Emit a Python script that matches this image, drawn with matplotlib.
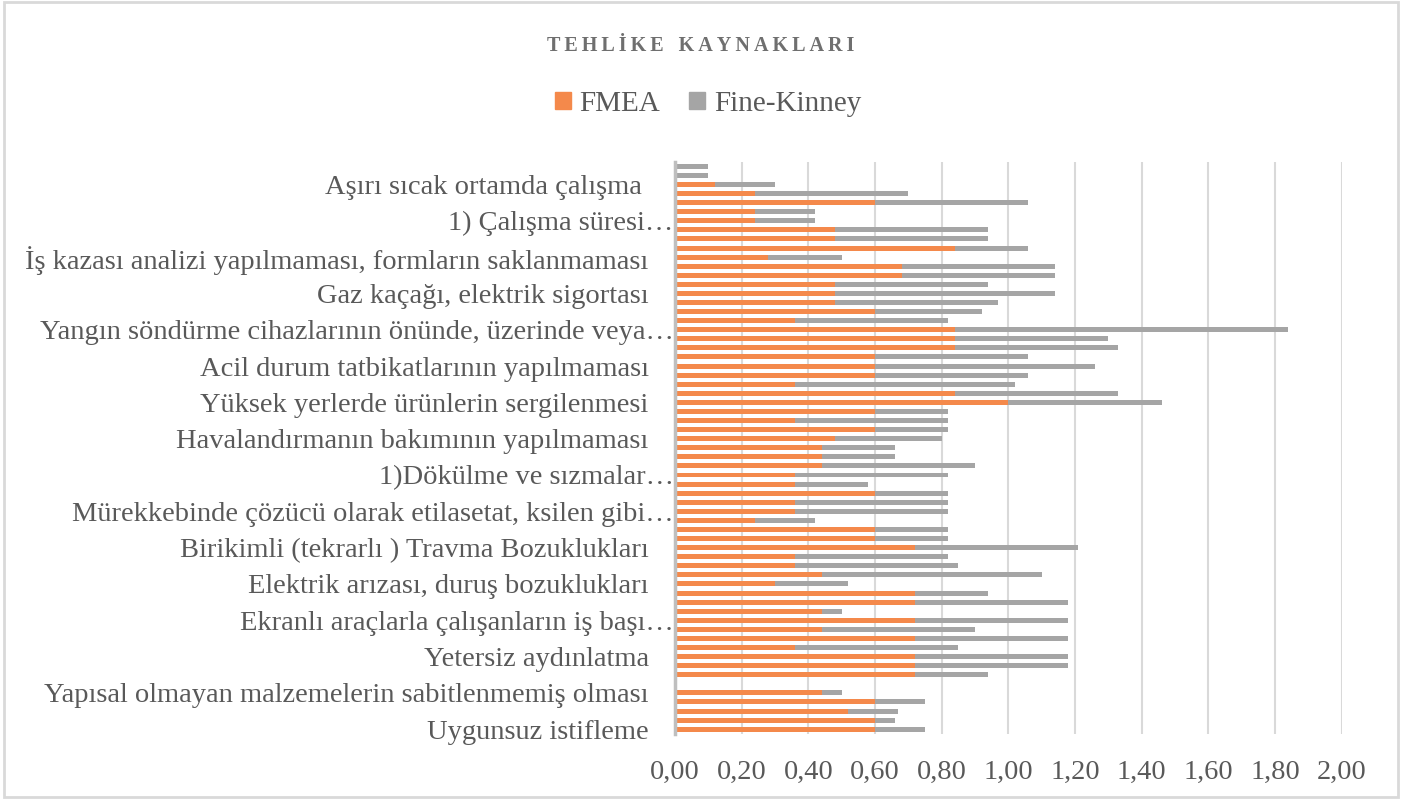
import matplotlib
matplotlib.use('Agg')
from matplotlib import pyplot as plt
import matplotlib.transforms as mtransforms
from matplotlib.patches import Patch, Rectangle
import numpy as np

# values, top row first
fmea = [0, 0, 0.12, 0.24, 0.60, 0.24, 0.24, 0.48, 0.48, 0.84, 0.28, 0.68, 0.68, 0.48, 0.48, 0.48,
        0.60, 0.36, 0.84, 0.84, 0.84, 0.60, 0.60, 0.60, 0.36, 0.84, 1.00, 0.60, 0.36, 0.60, 0.48, 0.44,
        0.44, 0.44, 0.36, 0.36, 0.60, 0.36, 0.36, 0.24, 0.60, 0.60, 0.72, 0.36, 0.36, 0.44, 0.30,
        0.72, 0.72, 0.44, 0.72, 0.44, 0.72, 0.36, 0.72, 0.72, 0.72, 0, 0.44, 0.60, 0.52, 0.60, 0.60]
fine_kinney = [0.10, 0.10, 0.30, 0.70, 1.06, 0.42, 0.42, 0.94, 0.94, 1.06, 0.50, 1.14, 1.14, 0.94, 1.14, 0.97,
               0.92, 0.82, 1.84, 1.30, 1.33, 1.06, 1.26, 1.06, 1.02, 1.33, 1.46, 0.82, 0.82, 0.82, 0.80, 0.66,
               0.66, 0.90, 0.82, 0.58, 0.82, 0.82, 0.82, 0.42, 0.82, 0.82, 1.21, 0.82, 0.85, 1.10, 0.52,
               0.94, 1.18, 0.50, 1.18, 0.90, 1.18, 0.85, 1.18, 1.18, 0.94, 0, 0.50, 0.75, 0.67, 0.66, 0.75]

# only every 4th category label is shown in the original
label_rows = list(range(2, 63, 4))
labels = ['Aşırı sıcak ortamda çalışma ',
          '1) Çalışma süresi…',
          'İş kazası analizi yapılmaması, formların saklanmaması',
          'Gaz kaçağı, elektrik sigortası',
          'Yangın söndürme cihazlarının önünde, üzerinde veya…',
          'Acil durum tatbikatlarının yapılmaması',
          'Yüksek yerlerde ürünlerin sergilenmesi',
          'Havalandırmanın bakımının yapılmaması',
          '1)Dökülme ve sızmalar…',
          'Mürekkebinde çözücü olarak etilasetat, ksilen gibi…',
          'Birikimli (tekrarlı ) Travma Bozuklukları',
          'Elektrik arızası, duruş bozuklukları',
          'Ekranlı araçlarla çalışanların iş başı…',
          'Yetersiz aydınlatma',
          'Yapısal olmayan malzemelerin sabitlenmemiş olması',
          'Uygunsuz istifleme']
x_ticks = [0, 0.2, 0.4, 0.6, 0.8, 1.0, 1.2, 1.4, 1.6, 1.8, 2.0]

orange = '#F4894B'
grey = '#A5A5A5'
text_color = '#595959'

plt.rcParams['font.family'] = ['Liberation Serif', 'DejaVu Serif']

fig = plt.figure(figsize=(14.02, 8), dpi=100)
ax = fig.add_axes([0.4815, 0.0828, 0.4755, 0.715])

y = np.arange(len(fmea))
# grey drawn full length, orange on top -> looks like the stacked excel bars
ax.barh(y, fine_kinney, height=0.55, color=grey)
ax.barh(y, fmea, height=0.55, color=orange)

ax.set_ylim(len(fmea) - 0.5, -0.5)
ax.set_xlim(0, 2)
ax.set_xticks(x_ticks)
ax.set_xticklabels([f'{v:.2f}'.replace('.', ',') for v in x_ticks])
ax.set_yticks(label_rows)
ax.set_yticklabels(labels)
ax.tick_params(axis='both', length=0, labelsize=20.5, labelcolor=text_color)
ax.tick_params(axis='x', pad=19)
ax.tick_params(axis='y', pad=1)

# untruncated labels sit a bit further from the axis
shift = mtransforms.ScaledTranslation(-25 / 100, 0, fig.dpi_scale_trans)
for lab in ax.get_yticklabels():
    if not lab.get_text().endswith('…'):
        lab.set_transform(lab.get_transform() + shift)

ax.xaxis.grid(True, color='#D9D9D9', linewidth=1.5)
ax.set_axisbelow(True)
for s in ['top', 'right', 'bottom']:
    ax.spines[s].set_visible(False)
ax.spines['left'].set_color('#BFBFBF')
ax.spines['left'].set_linewidth(2.5)

title = '\u2009'.join('TEHLİKE') + '   ' + '\u2009'.join('KAYNAKLARI')
fig.text(0.5, 1 - 46 / 800, title, ha='center', va='center',
         fontsize=14.5, fontweight='bold', color='#6F6F6F')

handles = [Patch(color=orange, label='FMEA'), Patch(color=grey, label='Fine-Kinney')]
fig.legend(handles=handles, loc='center', bbox_to_anchor=(0.505, 1 - 104 / 800), ncol=2,
           frameon=False, fontsize=21, handlelength=0.55, handleheight=0.55,
           handletextpad=0.3, columnspacing=1.0, labelcolor=text_color)

fig.patches.append(Rectangle((0.003, 0.004), 0.994, 0.993, transform=fig.transFigure,
                             fill=False, edgecolor='#D9D9D9', linewidth=2))

fig.savefig('out.png', dpi=100)
